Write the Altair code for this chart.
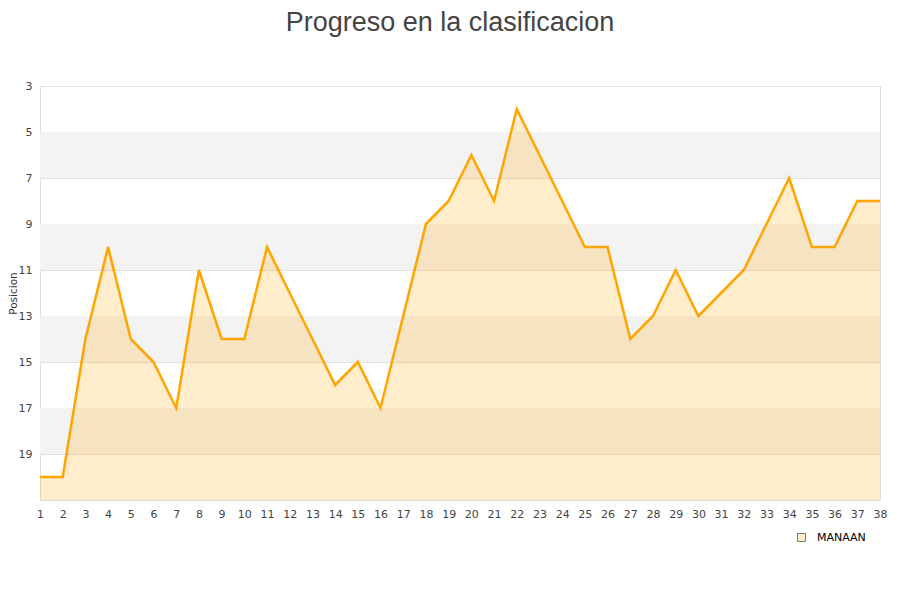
import altair as alt
import pandas as pd

jornadas = list(range(1, 39))
posiciones = [20, 20, 14, 10, 14, 15, 17, 11, 14, 14,
              10, 12, 14, 16, 15, 17, 13, 9, 8, 6,
              8, 4, 6, 8, 10, 10, 14, 13, 11, 13,
              12, 11, 9, 7, 10, 10, 8, 8]
equipo = "MANAAN"
band_start = [5, 9, 13, 17]
band_end = [7, 11, 15, 19]
y_ticks = [3, 5, 7, 9, 11, 13, 15, 17, 19]

df = pd.DataFrame({"Jornada": jornadas, "Posicion": posiciones, "Equipo": equipo, "base": 21})
bands = pd.DataFrame({"y": band_start, "y2": band_end})

yscale = alt.Scale(domain=[3, 21], reverse=True, nice=False, zero=False)
xscale = alt.Scale(domain=[1, 38], nice=False, zero=False)

x_axis = alt.Axis(values=jornadas, title=None, grid=False, ticks=False,
                  labelPadding=8, labelFontSize=11, labelColor="#444",
                  domain=False, labelFont="DejaVu Sans", labelFlush=False,
                  labelOverlap=False, labelBound=False)
y_axis = alt.Axis(values=y_ticks, title="Posicion", grid=True, gridColor="#e0e0e0",
                  ticks=False, domain=False, labelPadding=8, labelFontSize=11,
                  labelColor="#444", labelFont="DejaVu Sans",
                  titleFontSize=10.5, titleFontWeight="normal", titleColor="#333",
                  titleFont="DejaVu Sans", titlePadding=0)

band_layer = alt.Chart(bands).mark_rect(color="#f3f3f3").encode(
    x=alt.value(0), x2=alt.value(840),
    y=alt.Y("y:Q", scale=yscale, axis=y_axis), y2="y2:Q"
)

area = alt.Chart(df).mark_area(color="#FFA500", opacity=0.2).encode(
    x=alt.X("Jornada:Q", scale=xscale, axis=x_axis),
    y=alt.Y("Posicion:Q", scale=yscale, axis=y_axis),
    y2="base:Q",
)

legend_layer = alt.Chart(df).mark_square(size=0).encode(
    x=alt.X("Jornada:Q", scale=xscale, axis=x_axis),
    y=alt.Y("Posicion:Q", scale=yscale, axis=y_axis),
    fill=alt.Fill("Equipo:N", scale=alt.Scale(range=["#FFEDCC"]),
                  legend=alt.Legend(title=None, orient="none", legendX=756, legendY=446,
                                    symbolType="square", symbolSize=64,
                                    symbolStrokeColor="#777", symbolStrokeWidth=1,
                                    symbolOpacity=1, labelFontSize=11, labelOffset=10,
                                    labelFont="DejaVu Sans", labelColor="#000"))
)

line = alt.Chart(df).mark_line(color="#FFA500", strokeWidth=2.5).encode(
    x=alt.X("Jornada:Q", scale=xscale, axis=x_axis),
    y=alt.Y("Posicion:Q", scale=yscale, axis=y_axis)
)

chart = alt.layer(band_layer, area, line, legend_layer).properties(
    width=840, height=414,
    autosize=alt.AutoSizeParams(type="none"),
    padding={"left": 32, "top": 78, "right": 12, "bottom": 92},
    title=alt.TitleParams("Progreso en la clasificacion", fontSize=27, fontWeight="normal",
                          color="#444", font="Liberation Sans", anchor="middle", dx=-10, offset=43)
).configure_view(stroke="#dddddd", strokeWidth=1).configure_axisX(labelOverlap=False)

chart.save("out.html", embed_options={"renderer": "svg", "actions": False})
